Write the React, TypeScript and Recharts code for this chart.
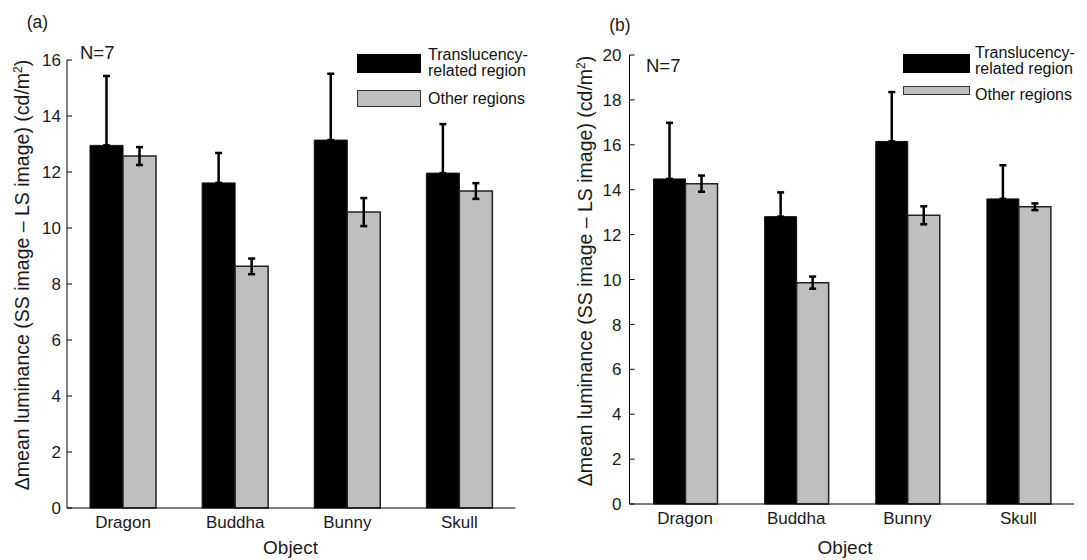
import { BarChart, Bar, XAxis, YAxis, ErrorBar, Legend } from "recharts";

// objects on the x axis
const objects = ["Dragon", "Buddha", "Bunny", "Skull"];

// panel (a)
const aTransMean = [12.95, 11.61, 13.14, 11.96];
const aTransErr = [2.48, 1.07, 2.37, 1.75];
const aOtherMean = [12.57, 8.63, 10.57, 11.32];
const aOtherErr = [0.32, 0.28, 0.5, 0.28];
const aTicks = [0, 2, 4, 6, 8, 10, 12, 14, 16];

// panel (b)
const bTransMean = [14.48, 12.8, 16.15, 13.59];
const bTransErr = [2.5, 1.08, 2.2, 1.5];
const bOtherMean = [14.27, 9.86, 12.86, 13.24];
const bOtherErr = [0.36, 0.27, 0.4, 0.15];
const bTicks = [0, 2, 4, 6, 8, 10, 12, 14, 16, 18, 20];

const GRAY = "#bebfc1";
const FONT = '"Liberation Sans", Arial, Helvetica, sans-serif';

const rows = (tm: number[], te: number[], om: number[], oe: number[]) =>
  objects.map((name, i) => ({
    name,
    trans: tm[i],
    transErr: [0, te[i]],
    other: om[i],
    otherErr: oe[i],
  }));

const dataA = rows(aTransMean, aTransErr, aOtherMean, aOtherErr);
const dataB = rows(bTransMean, bTransErr, bOtherMean, bOtherErr);

const makeYTick = (gap: number) => (props: any) => {
  const { x, y, payload } = props;
  const ax = x + gap;
  return (
    <g>
      <line x1={ax} x2={ax + 5} y1={y} y2={y} stroke="#000" strokeWidth={1} />
      <text x={x} y={y} dy="0.36em" textAnchor="end" fontSize={17} fill="#1a1a1a">
        {payload.value}
      </text>
    </g>
  );
};

const LegendBox = ({ b }: { b: boolean }) => (
  <div style={{ position: "relative", width: 200, height: 62, fontSize: 16, color: "#111", whiteSpace: "nowrap" }}>
    <div style={{ position: "absolute", left: 0, top: b ? 5 : 4, width: b ? 67 : 64, height: 19, background: "#000" }} />
    <div style={{ position: "absolute", left: b ? 72 : 71, top: b ? -4 : -3, lineHeight: "16px" }}>
      <div>Translucency-</div>
      <div>related region</div>
    </div>
    <div
      style={{
        position: "absolute",
        left: 0,
        top: b ? 37 : 40,
        width: b ? 67 : 64,
        height: b ? 9 : 17,
        background: GRAY,
        border: "1px solid #333",
        boxSizing: "border-box",
      }}
    />
    <div style={{ position: "absolute", left: b ? 72 : 71, top: b ? 38 : 41, lineHeight: "16px" }}>Other regions</div>
  </div>
);

const Panel = ({ data, ticks, max, width, yWidth, right, top, bottom, gap, barSize, legendPos, b }: any) => (
  <BarChart
    width={width}
    height={560}
    data={data}
    margin={{ top, right, bottom: bottom - 30, left: 0 }}
    barGap={0}
  >
    <XAxis
      dataKey="name"
      height={30}
      tickLine={false}
      tickSize={0}
      tickMargin={8}
      axisLine={{ stroke: "#000" }}
      tick={{ fontSize: 17, fill: "#1a1a1a" }}
    />
    <YAxis
      width={yWidth}
      domain={[0, max]}
      ticks={ticks}
      interval={0}
      tickLine={false}
      tickSize={0}
      tickMargin={gap}
      axisLine={{ stroke: "#000" }}
      tick={makeYTick(gap)}
    />
    <Legend
      layout="vertical"
      align="center"
      verticalAlign="middle"
      wrapperStyle={{ left: legendPos[0], top: legendPos[1], width: 200, height: 62 }}
      content={() => <LegendBox b={b} />}
    />
    <Bar dataKey="trans" name="Translucency-related region" fill="#000" stroke="#111" barSize={barSize} isAnimationActive={false}>
      <ErrorBar dataKey="transErr" width={3.5} strokeWidth={2.5} stroke="#000" direction="y" />
    </Bar>
    <Bar dataKey="other" name="Other regions" fill={GRAY} stroke="#222" strokeWidth={1.5} barSize={barSize} isAnimationActive={false}>
      <ErrorBar dataKey="otherErr" width={3.5} strokeWidth={2.5} stroke="#000" direction="y" />
    </Bar>
  </BarChart>
);

const yLabel = (
  <>
    Δmean luminance (SS image – LS image) (cd/m
    <tspan baselineShift="super" fontSize={12}>
      2
    </tspan>
    )
  </>
);

export default function App() {
  return (
    <div style={{ position: "absolute", left: 0, top: 0, width: 1087, height: 560, background: "#fff", fontFamily: FONT }}>
      <div style={{ position: "absolute", left: 0, top: 0 }}>
        <Panel
          data={dataA}
          ticks={aTicks}
          max={16}
          width={540}
          yWidth={67}
          right={24.5}
          top={60}
          bottom={52}
          gap={6}
          barSize={33}
          legendPos={[357, 50]}
          b={false}
        />
      </div>
      <div style={{ position: "absolute", left: 540, top: 0 }}>
        <Panel
          data={dataB}
          ticks={bTicks}
          max={20}
          width={547}
          yWidth={89.5}
          right={13}
          top={55}
          bottom={56}
          gap={8}
          barSize={32}
          legendPos={[363, 49]}
          b={true}
        />
      </div>
      <svg
        width={1087}
        height={560}
        style={{ position: "absolute", left: 0, top: 0, pointerEvents: "none", fontFamily: FONT }}
      >
        <text x={26.7} y={28} fontSize={17.5} fill="#1a1a1a">(a)</text>
        <text x={609.3} y={31.3} fontSize={17.5} fill="#1a1a1a">(b)</text>
        <text x={80} y={59.3} fontSize={18.5} fill="#1a1a1a">N=7</text>
        <text x={646} y={71.7} fontSize={18.5} fill="#1a1a1a">N=7</text>
        <text x={290.5} y={554} fontSize={19} textAnchor="middle" fill="#1a1a1a">Object</text>
        <text x={845} y={554} fontSize={19} textAnchor="middle" fill="#1a1a1a">Object</text>
        <text transform="translate(29,275) rotate(-90)" fontSize={19.5} textAnchor="middle" fill="#1a1a1a">
          {yLabel}
        </text>
        <text transform="translate(592,271) rotate(-90)" fontSize={19.5} textAnchor="middle" fill="#1a1a1a">
          {yLabel}
        </text>
      </svg>
    </div>
  );
}
